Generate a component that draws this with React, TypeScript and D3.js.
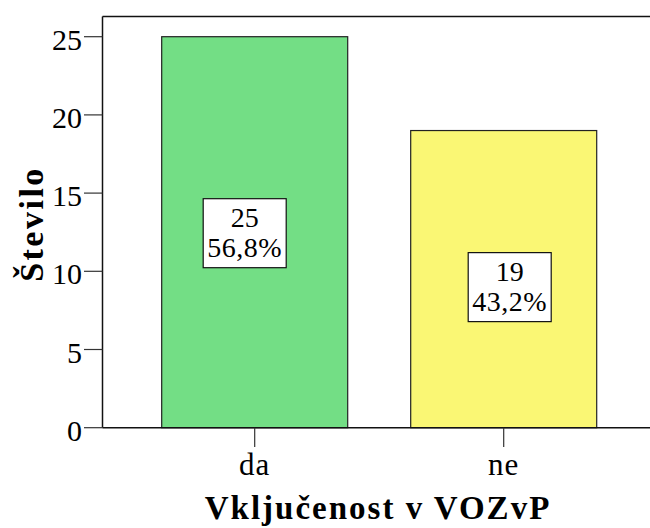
import React from "react";
import * as d3 from "d3";

const categories = ["da", "ne"];
const counts = [25, 19];
const percents = ["56,8%", "43,2%"];
const colors = ["#73de85", "#faf774"];
const yTicks = [0, 5, 10, 15, 20, 25];

const FONT = "'Liberation Serif', 'Times New Roman', serif";

export default function App() {
  const W = 650, H = 528;
  const frameLeft = 102.5, frameTop = 16.5, y0 = 427.7;
  const y = d3.scaleLinear().domain([0, 25]).range([y0, 36.7]);
  const x = d3.scaleBand().domain(categories).range([98.7, 659.7]).paddingInner(0.253).paddingOuter(0.253);
  const labelDx = [-10, 6];
  const labelDy = [1, 8];
  const ts = (size: number, bold = false, ls = 0): React.CSSProperties => ({
    fontFamily: FONT, fontSize: size, fontWeight: bold ? "bold" : "normal", letterSpacing: ls,
  });
  return (
    <svg width={W} height={H} style={{ position: "absolute", left: 0, top: 0 }}>
      <rect x={0} y={0} width={W} height={H} fill="#fff" />
      {categories.map((c, i) => (
        <rect key={c} x={x(c)} y={y(counts[i])} width={x.bandwidth()} height={y0 - y(counts[i])}
          fill={colors[i]} stroke="#222" strokeWidth={1.2} />
      ))}
      <line x1={frameLeft} x2={W} y1={frameTop} y2={frameTop} stroke="#111" strokeWidth={1.5} />
      <line x1={frameLeft} x2={frameLeft} y1={frameTop} y2={y0} stroke="#111" strokeWidth={1.5} />
      <line x1={frameLeft} x2={W} y1={y0} y2={y0} stroke="#111" strokeWidth={1.5} />
      {yTicks.map(t => (
        <g key={t}>
          <line x1={84} x2={frameLeft} y1={y(t)} y2={y(t)} stroke="#333" strokeWidth={1.2} />
          <text x={82} y={y(t) + 13} textAnchor="end" style={ts(30)}>{t}</text>
        </g>
      ))}
      {categories.map((c, i) => {
        const cx = (x(c) as number) + x.bandwidth() / 2;
        return (
          <g key={c}>
            <line x1={cx} x2={cx} y1={y0} y2={447} stroke="#333" strokeWidth={1.2} />
            <text x={cx} y={475} textAnchor="middle" style={ts(31, false, 1)}>{c}</text>
          </g>
        );
      })}
      {categories.map((c, i) => {
        const cx = (x(c) as number) + x.bandwidth() / 2 + labelDx[i];
        const cy = y(counts[i] / 2) + labelDy[i];
        const bw = 83, bh = 69;
        return (
          <g key={c}>
            <rect x={cx - bw / 2} y={cy - bh / 2} width={bw} height={bh} fill="#fff" stroke="#111" strokeWidth={1.2} />
            <text x={cx} y={cy - 6} textAnchor="middle" style={ts(28)}>{counts[i]}</text>
            <text x={cx} y={cy + 23.5} textAnchor="middle" style={ts(28, false, 0.5)}>{percents[i]}</text>
          </g>
        );
      })}
      <text transform={`translate(42.7,224) rotate(-90)`} textAnchor="middle" style={ts(34, true, 2.5)}>Število</text>
      <text x={378} y={519.3} textAnchor="middle" style={ts(33, true, 2)}>Vključenost v VOZvP</text>
    </svg>
  );
}
